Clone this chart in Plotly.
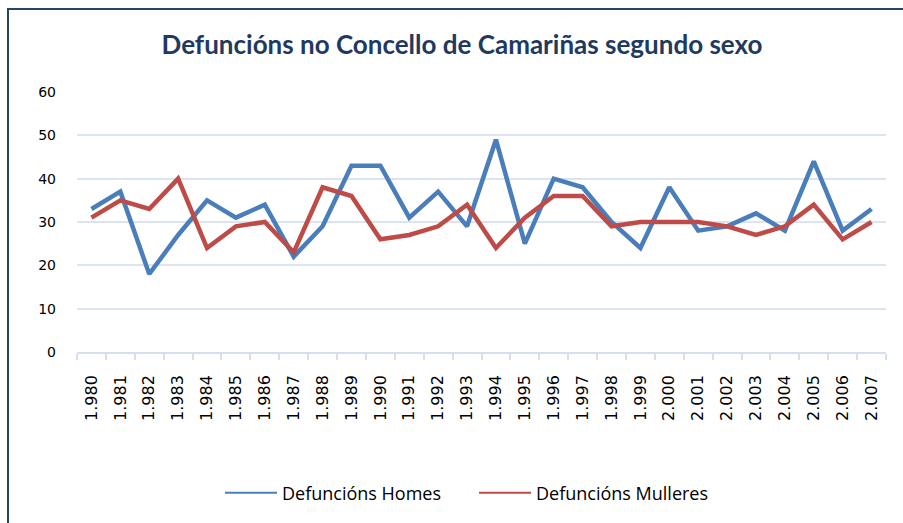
import plotly.graph_objects as go

years = ["1.980", "1.981", "1.982", "1.983", "1.984", "1.985", "1.986", "1.987",
         "1.988", "1.989", "1.990", "1.991", "1.992", "1.993", "1.994", "1.995",
         "1.996", "1.997", "1.998", "1.999", "2.000", "2.001", "2.002", "2.003",
         "2.004", "2.005", "2.006", "2.007"]
homes = [33, 37, 18, 27, 35, 31, 34, 22, 29, 43, 43, 31, 37, 29, 49, 25,
         40, 38, 30, 24, 38, 28, 29, 32, 28, 44, 28, 33]
mulleres = [31, 35, 33, 40, 24, 29, 30, 23, 38, 36, 26, 27, 29, 34, 24, 31,
            36, 36, 29, 30, 30, 30, 29, 27, 29, 34, 26, 30]
y_ticks = [0, 10, 20, 30, 40, 50, 60]

BLUE = "#4A7EBB"
RED = "#BE4B48"

fig = go.Figure()
fig.add_trace(go.Scatter(x=years, y=homes, mode="lines", name="Defuncións Homes",
                         line=dict(color=BLUE, width=4.5), showlegend=False))
fig.add_trace(go.Scatter(x=years, y=mulleres, mode="lines", name="Defuncións Mulleres",
                         line=dict(color=RED, width=4.5), showlegend=False))
# legend entries with thin lines, as in the reference legend
fig.add_trace(go.Scatter(x=[None], y=[None], mode="lines", name="Defuncións Homes",
                         line=dict(color=BLUE, width=2)))
fig.add_trace(go.Scatter(x=[None], y=[None], mode="lines", name="Defuncións Mulleres",
                         line=dict(color=RED, width=2)))

L, R, T, B = 77, 17, 92, 171
W, H = 903, 523
pw = W - L - R
ph = H - T - B

def px_x(px):
    return (px - L) / pw

def px_y(py):
    return (H - B - py) / ph

fig.update_layout(
    width=W, height=H,
    margin=dict(l=L, r=R, t=T, b=B),
    paper_bgcolor="white", plot_bgcolor="white",
    font=dict(family="'DejaVu Sans', sans-serif", color="#000000", size=14),
    title=dict(text="<b>Defuncións no Concello de Camariñas segundo sexo</b>",
               x=462 / W, xref="container", xanchor="center",
               y=1 - 45 / H, yref="container", yanchor="middle",
               font=dict(family="Lato, sans-serif", size=26, color="#1F3A60")),
    showlegend=True,
    legend=dict(orientation="h", x=px_x(220), xanchor="left",
                y=px_y(493), yanchor="middle",
                font=dict(family="'Open Sans', sans-serif", size=18, color="#000000"),
                itemwidth=52, entrywidth=187, entrywidthmode="pixels",
                tracegroupgap=0, bgcolor="rgba(0,0,0,0)"),
    xaxis=dict(type="category", range=[-0.5, len(years) - 0.5],
               tickson="boundaries", ticks="outside", ticklen=6,
               tickcolor="#D5DFEE", tickwidth=1.5, showline=True, linecolor="#D5DFEE",
               linewidth=1.5, showgrid=False, tickangle=-90,
               tickfont=dict(size=16), ticklabelstandoff=15, zeroline=False),
    yaxis=dict(range=[0, 60], tickvals=y_ticks, showgrid=True, gridcolor="#DCE4F1",
               gridwidth=1.5, zeroline=False, showline=False, ticks="",
               ticklabelstandoff=20, tickfont=dict(size=14)),
    shapes=[dict(type="rect", xref="paper", yref="paper",
                 x0=px_x(8), x1=px_x(915), y0=px_y(535), y1=px_y(9),
                 line=dict(color="#2A4468", width=2), fillcolor="rgba(0,0,0,0)",
                 layer="below")],
)

fig.write_html("out.html",
               config={"displayModeBar": False},
               post_script="document.body.style.margin='0';document.body.style.overflow='hidden';")
